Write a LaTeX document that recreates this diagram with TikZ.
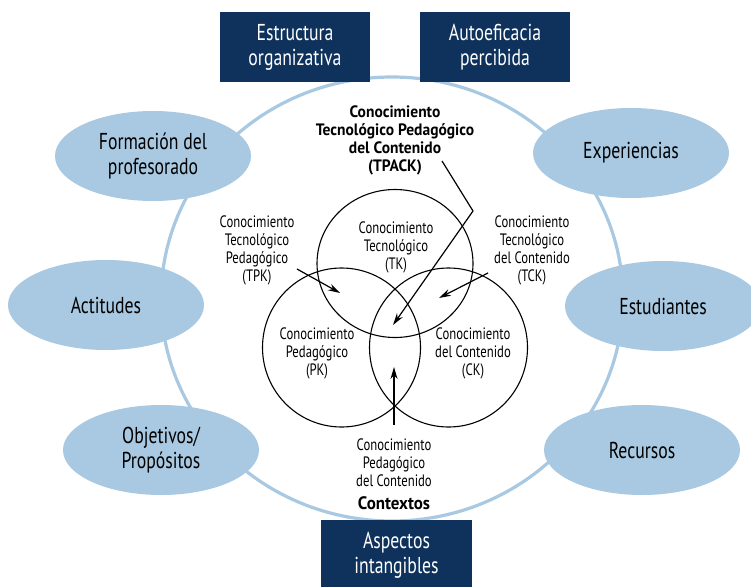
\documentclass[tikz,border=0pt]{standalone}
\usepackage{fontspec}
\setmainfont{PT Sans}[FakeStretch=0.77, BoldFeatures={FakeStretch=0.94}]
\usetikzlibrary{shapes.geometric,arrows.meta}
\definecolor{navy}{RGB}{14,50,92}
\definecolor{ovalblue}{RGB}{168,201,225}
\definecolor{ringblue}{RGB}{168,201,225}
\tikzset{
  ringshape/.style={ellipse, draw=ringblue, line width=3.2pt, inner sep=0pt},
  oval/.style={ellipse, fill=ovalblue, minimum width=196pt, minimum height=90pt,
    inner sep=0pt, align=center, font=\fontsize{23}{25}\selectfont},
  navybox/.style={rectangle, fill=navy, text=white, align=center, inner sep=0pt,
    minimum width=150pt, minimum height=70pt, font=\fontsize{23}{25}\selectfont},
  venn/.style={ellipse, draw=black, line width=1.1pt, inner sep=0pt},
  lbl/.style={align=center, inner sep=0pt, font=\fontsize{16.5}{18}\selectfont},
  boldlbl/.style={align=center, inner sep=0pt, font=\fontsize{16.5}{18}\selectfont\bfseries},
  arr/.style={-{Stealth[length=12pt,width=7pt]}, line width=1.2pt, line join=miter}
}
\begin{document}
\begin{tikzpicture}[x=1pt,y=-1pt]
\fill[white] (0,0) rectangle (751,586);
\useasboundingbox (0,0) rectangle (751,586);
% big ring
\node[ringshape, minimum width=462pt, minimum height=444pt] (ring) at (392,299) {};
% Venn circles
\node[venn, minimum width=156pt, minimum height=148pt] (tk) at (395,263.5) {};
\node[venn, minimum width=158pt, minimum height=159pt] (pk) at (341.5,347.5) {};
\node[venn, minimum width=158pt, minimum height=159pt] (ck) at (448.5,347.5) {};
% outer ellipses
\node[oval] (form) at (153,156) {Formación del\\profesorado};
\node[oval] (acti) at (106,305) {Actitudes};
\node[oval] (obje) at (161,450) {Objetivos/\\Propósitos};
\node[oval] (expe) at (631,153) {Experiencias};
\node[oval] (estu) at (663,306) {Estudiantes};
\node[oval] (recu) at (642,450) {Recursos};
% boxes
\node[navybox] (estr) at (295,47) {Estructura\\organizativa};
\node[navybox] (auto) at (495,47) {Autoeficacia\\percibida};
\node[navybox, minimum width=151pt] (aspe) at (396.5,555) {Aspectos\\intangibles};
% labels
\node[boldlbl] (tpack) at (395,140) {Conocimiento\\Tecnológico Pedagógico\\del Contenido\\(TPACK)};
\node[lbl] (tklbl) at (396,247) {Conocimiento\\Tecnológico\\(TK)};
\node[lbl] (pklbl) at (317,353) {Conocimiento\\Pedagógico\\(PK)};
\node[lbl] (cklbl) at (473,353) {Conocimiento\\del Contenido\\(CK)};
\node[lbl] (tpk) at (257,250) {Conocimiento\\Tecnológico\\Pedagógico\\(TPK)};
\node[lbl] (tck) at (532,250) {Conocimiento\\Tecnológico\\del Contenido\\(TCK)};
\node[lbl] (pck) at (394,463) {Conocimiento\\Pedagógico\\del Contenido};
\node[boldlbl, font=\fontsize{18}{20}\selectfont\bfseries] (cont) at (394,503) {Contextos};
% arrow coordinates
\coordinate (tpackS) at (442,161);
\coordinate (tpackB) at (473,211);
\coordinate (tpackT) at (393,325);
\coordinate (tpkS) at (297,269);
\coordinate (tpkT) at (340,293);
\coordinate (tckS) at (488,273);
\coordinate (tckT) at (439,298);
\coordinate (pckS) at (394,425);
\coordinate (pckT) at (394,367);
% arrows
\draw[arr] (tpackS) -- (tpackB) -- (tpackT);
\draw[arr] (tpkS) -- (tpkT);
\draw[arr] (tckS) -- (tckT);
\draw[arr] (pckS) -- (pckT);
\end{tikzpicture}
\end{document}
